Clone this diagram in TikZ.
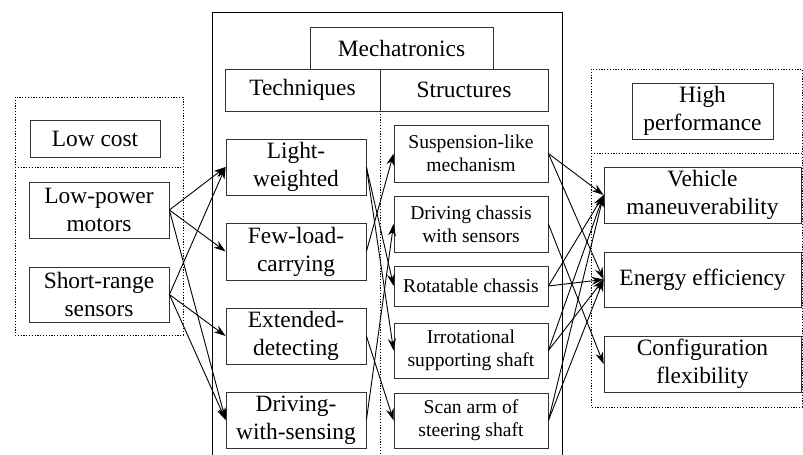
\documentclass[tikz,border=0pt]{standalone}
\usepackage{fontspec}
\setmainfont{Liberation Serif}
\usetikzlibrary{arrows.meta}
\tikzset{
  box/.style={draw=black!80, line width=0.8pt, align=center, inner sep=0pt, font=\fontsize{23.4}{28}\selectfont},
  smallbox/.style={box, font=\fontsize{19.6}{23}\selectfont},
  link/.style={-{Stealth[length=12pt,width=8pt]}, line width=0.9pt},
  frame/.style={line width=0.9pt, dash pattern=on 1.2pt off 1.6pt},
}
\begin{document}
\begin{tikzpicture}[x=1pt,y=-1pt]
    \useasboundingbox (0,0) rectangle (803,455);
    % dotted groups
    \draw[frame] (15,97) rectangle (183,335);
    \draw[frame] (15,167) -- (183,167);
    \draw[frame] (591,69) rectangle (802,407);
    \draw[frame] (591,153) -- (802,153);
    % mechatronics frame
    \draw[line width=0.9pt] (212,455) -- (212,12) -- (562,12) -- (562,455);
    \draw[frame] (380,111) -- (380,455);
    \node[box, minimum width=183pt, minimum height=42pt] (mecha) at (401.5,48) {Mechatronics};
    \node[box, minimum width=155pt, minimum height=42pt] (tech) at (302.5,90) {Techniques};
    \node[box, minimum width=168pt, minimum height=42pt] (struct) at (464,90) {Structures};
    % low cost
    \node[box, minimum width=130pt, minimum height=37pt] (lowcost) at (95,138.5) {Low cost};
    \node[box, minimum width=140pt, minimum height=56pt] (lowpower) at (99,210) {Low-power\\motors};
    \node[box, minimum width=140pt, minimum height=55pt] (shortrange) at (99,294.5) {Short-range\\sensors};
    % techniques
    \node[box, minimum width=140pt, minimum height=56pt] (light) at (296,167) {Light-\\weighted};
    \node[box, minimum width=140pt, minimum height=57pt] (fewload) at (296,251.5) {Few-load-\\carrying};
    \node[box, minimum width=140pt, minimum height=56pt] (extended) at (296,336) {Extended-\\detecting};
    \node[box, minimum width=140pt, minimum height=56pt] (drivesense) at (296,420) {Driving-\\with-sensing};
    % structures
    \node[smallbox, minimum width=154pt, minimum height=57pt] (suspension) at (471,153.5) {Suspension-like\\mechanism};
    \node[smallbox, minimum width=154pt, minimum height=56pt] (drivechassis) at (471,224) {Driving chassis\\with sensors};
    \node[smallbox, minimum width=154pt, minimum height=40pt] (rotatable) at (471,286) {Rotatable chassis};
    \node[smallbox, minimum width=154pt, minimum height=55pt] (irrot) at (471,350.5) {Irrotational\\supporting shaft};
    \node[smallbox, minimum width=154pt, minimum height=55pt] (scanarm) at (471,420.5) {Scan arm of\\steering shaft};
    % high performance
    \node[box, minimum width=141pt, minimum height=56pt] (highperf) at (702.5,111) {High\\performance};
    \node[box, minimum width=197pt, minimum height=56pt] (vehicle) at (702.5,195) {Vehicle\\maneuverability};
    \node[box, minimum width=197pt, minimum height=55pt] (energy) at (702.5,279.5) {Energy efficiency};
    \node[box, minimum width=197pt, minimum height=56pt] (config) at (702.5,364) {Configuration\\flexibility};
    % low cost -> techniques
    \draw[link] (lowpower.east) -- (light.west);
    \draw[link] (lowpower.east) -- (fewload.west);
    \draw[link] (lowpower.east) -- (drivesense.west);
    \draw[link] (shortrange.east) -- (light.west);
    \draw[link] (shortrange.east) -- (extended.west);
    \draw[link] (shortrange.east) -- (drivesense.west);
    % techniques -> structures
    \draw[link] (light.east) -- (rotatable.west);
    \draw[link] (light.east) -- (irrot.west);
    \draw[link] (fewload.east) -- (suspension.west);
    \draw[link] (extended.east) -- (scanarm.west);
    \draw[link] (drivesense.east) -- (drivechassis.west);
    % structures -> high performance
    \draw[link] (suspension.east) -- (vehicle.west);
    \draw[link] (suspension.east) -- (energy.west);
    \draw[link] (drivechassis.east) -- (config.west);
    \draw[link] (rotatable.east) -- (vehicle.west);
    \draw[link] (rotatable.east) -- (energy.west);
    \draw[link] (irrot.east) -- (vehicle.west);
    \draw[link] (irrot.east) -- (energy.west);
    \draw[link] (scanarm.east) -- (vehicle.west);
    \draw[link] (scanarm.east) -- (energy.west);
\end{tikzpicture}
\end{document}
